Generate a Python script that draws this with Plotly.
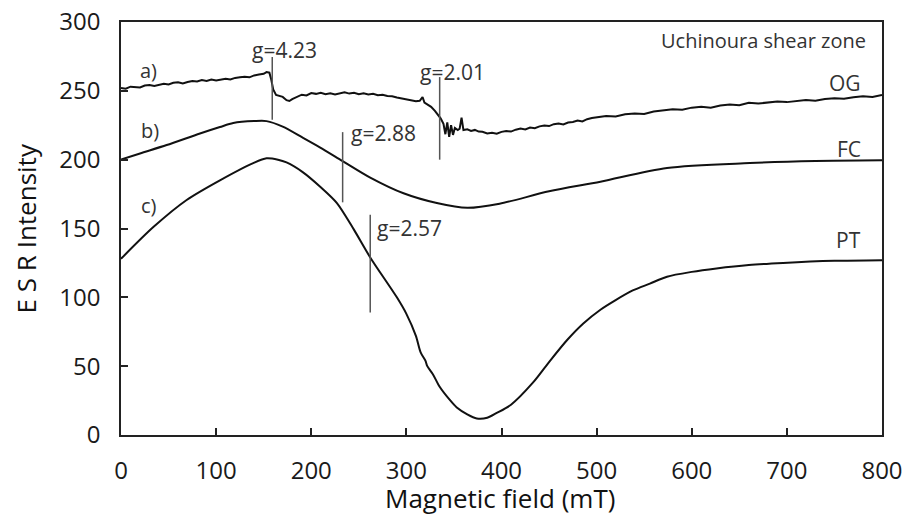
import plotly.graph_objects as go

# OG (a): field (mT) and intensity
og_x = [0, 5, 10, 15, 20, 25, 30, 35, 40, 45, 50, 55, 60, 65, 70, 75, 80, 85, 90, 95, 100, 105,
        110, 115, 120, 125, 130, 135, 140, 145, 150, 153, 156, 158, 160, 163, 166, 170, 174, 177,
        180, 185, 190, 195, 200, 205, 210, 215, 220, 225, 230, 235, 240, 245, 250, 255, 260, 265,
        270, 275, 280, 285, 290, 295, 300, 305, 310, 314, 317, 319, 322, 326, 330, 333, 336, 339,
        341, 343, 345, 347, 349, 351, 354, 356, 358, 360, 364, 368, 372, 376, 380, 385, 390, 395,
        400, 405, 410, 415, 420, 425, 430, 435, 440, 445, 450, 455, 460, 465, 470, 475, 480, 485,
        490, 495, 500, 510, 520, 530, 540, 550, 560, 570, 580, 590, 600, 610, 620, 630, 640, 650,
        660, 670, 680, 690, 700, 710, 720, 730, 740, 750, 760, 770, 780, 790, 800]
og_y = [252, 251.5, 253, 252.6, 252.4, 253.8, 254.2, 253.5, 254.6, 255.2, 254.6, 255.8, 256.2,
        255.4, 256.4, 257.2, 256.8, 257.8, 257.2, 258.2, 257.6, 258.4, 258.8, 258.2, 259.4, 259.8,
        260.2, 259.8, 261.2, 261.8, 262.4, 263.6, 263.2, 258, 251, 247, 246.2, 245.6, 243.2, 242.6,
        244, 245.8, 247.2, 246.6, 248.4, 247.8, 248.6, 247.6, 248.2, 247.4, 248.4, 249, 248, 248.6,
        247.6, 248.2, 247.4, 247.8, 246.8, 247.2, 246.2, 246, 245.2, 244.6, 244, 243.2, 242.4,
        242.8, 245.5, 241.5, 240.2, 238.4, 235.5, 232.5, 230, 226, 218.5, 227, 216.5, 225, 218,
        223, 221.5, 222.5, 230.5, 221.5, 222, 220.8, 221.6, 220.4, 220.2, 219, 219.6, 218.8, 220.2,
        220.8, 220.4, 221.8, 222.6, 222, 223.4, 222.8, 224.2, 224.8, 224.4, 225.8, 226.2, 225.6,
        227, 227.4, 228.4, 227.8, 229.4, 230.2, 230.6, 231.8, 231.4, 233, 233.6, 233.2, 235, 235.6,
        236.6, 236.2, 237.8, 238.4, 237.8, 239.4, 240, 239.6, 241.4, 240.8, 241.6, 242.2, 241.8,
        242.8, 243.4, 242.8, 244, 244.6, 244.2, 245.4, 246, 245.6, 247]

# FC (b)
fc_x = [0, 20, 48, 83, 104, 118, 140, 153, 170, 191, 209, 233, 262, 297, 332, 364, 398, 450,
        504, 574, 661, 730, 800]
fc_y = [200, 204.5, 210.6, 219, 223.7, 226.6, 228, 228, 224, 216, 209, 199, 187, 175.6, 168.5,
        165, 168, 177, 184, 194, 197.5, 199, 199.5]

# PT (c)
pt_x = [0, 34, 69, 104, 139, 153, 165, 174, 191, 210, 227, 245, 262, 290, 300, 310, 315, 320,
        322, 328, 335, 345, 353, 364, 374, 385, 395, 410, 433, 450, 469, 486, 504, 520, 538, 556,
        574, 600, 626, 660, 696, 750, 800]
pt_y = [128, 151, 170.7, 185, 197.5, 201, 200, 198, 191, 180, 168.5, 149, 129, 100, 88, 72, 60,
        54, 50, 44, 35, 26, 20, 15, 12, 12.5, 16, 22, 38, 53, 69, 81, 91, 98, 105, 110, 115, 118.5,
        121, 123.5, 125, 126.5, 127]

# g-value marker lines: field, bottom, top; label centre positions
g_labels = ["g=4.23", "g=2.01", "g=2.88", "g=2.57"]
g_field = [159, 335, 233, 262]
g_bottom = [229, 200, 169, 89]
g_top = [274.5, 260, 220, 160]
g_label_xy = [(172, 279.6), (348, 263.6), (275.5, 219.3), (303, 150.3)]

curve_labels = ["a)", "b)", "c)"]
curve_label_xy = [(29, 265), (31, 221), (29, 167)]
sample_labels = ["OG", "FC", "PT"]
sample_label_y = [256, 207.7, 142]

FONT = "Open Sans"
fig = go.Figure()
for xs, ys, shape in [(og_x, og_y, "linear"), (fc_x, fc_y, "spline"), (pt_x, pt_y, "spline")]:
    fig.add_trace(go.Scatter(x=xs, y=ys, mode="lines",
                             line=dict(color="#111111", width=2, shape=shape, smoothing=0.8),
                             showlegend=False, hoverinfo="skip"))

for f, b, t in zip(g_field, g_bottom, g_top):
    fig.add_trace(go.Scatter(x=[f, f], y=[b, t], mode="lines",
                             line=dict(color="#555555", width=1.5), showlegend=False,
                             hoverinfo="skip"))

anns = []
for txt, (ax, ay) in zip(g_labels, g_label_xy):
    anns.append(dict(x=ax, y=ay, text=txt, showarrow=False, xanchor="center", yanchor="middle",
                     font=dict(family=FONT, size=21, color="#333333")))
for txt, (ax, ay) in zip(curve_labels, curve_label_xy):
    anns.append(dict(x=ax, y=ay, text=txt, showarrow=False, xanchor="center", yanchor="middle",
                     font=dict(family=FONT, size=20, color="#333333")))
for txt, ay in zip(sample_labels, sample_label_y):
    anns.append(dict(x=780, y=ay, text=txt, showarrow=False, xanchor="right", yanchor="middle",
                     font=dict(family=FONT, size=21, color="#333333")))
anns.append(dict(x=785.5, y=286.8, text="Uchinoura shear zone", showarrow=False, xanchor="right",
                 yanchor="middle", font=dict(family=FONT, size=20, color="#333333")))
anns.append(dict(x=0.498, y=-0.153, xref="paper", yref="paper", text="Magnetic field (mT)",
                 showarrow=False, xanchor="center", yanchor="middle",
                 font=dict(family=FONT, size=26, color="#111111")))
anns.append(dict(x=-0.125, y=0.5, xref="paper", yref="paper", text="E S R Intensity",
                 showarrow=False, xanchor="center", yanchor="middle", textangle=-90,
                 font=dict(family=FONT, size=26, color="#111111")))

fig.update_layout(
    width=906, height=516,
    margin=dict(l=121, r=24, t=22, b=81),
    paper_bgcolor="white", plot_bgcolor="white",
    annotations=anns,
    font=dict(family=FONT, color="#222222"),
)
axis_common = dict(showgrid=False, zeroline=False, showline=True, linecolor="#222222",
                   linewidth=1.5, mirror=True, ticks="inside", ticklen=7, tickwidth=1.5,
                   tickcolor="#222222", automargin=False, ticklabeloverflow="allow",
                   tickfont=dict(family=FONT, size=24, color="#1a1a1a"))
fig.update_xaxes(range=[0, 800], tickvals=[0, 100, 200, 300, 400, 500, 600, 700, 800],
                 ticklabelstandoff=13, **axis_common)
fig.update_yaxes(range=[0, 300], tickvals=[0, 50, 100, 150, 200, 250, 300],
                 ticklabelstandoff=14, **axis_common)

# remove the page's default body margin so the 906x516 figure fills the window exactly
fig.write_html("out.html", config={"displayModeBar": False},
               post_script="document.body.style.margin='0';document.body.style.overflow='hidden';")
